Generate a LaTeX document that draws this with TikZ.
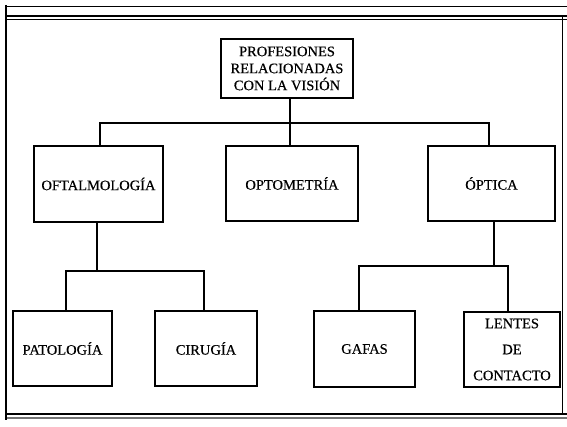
\documentclass[tikz,border=0pt]{standalone}
\usepackage{fontspec}
\setmainfont{Liberation Serif}[FakeBold=0.4]
\begin{document}
\begin{tikzpicture}[x=1pt,y=-1pt,
  box/.style={draw=black,line width=1.5pt,rectangle,inner sep=0pt,align=center,
    font=\fontsize{14.5}{17}\selectfont},
  conn/.style={draw=black,line width=2pt},
  frameline/.style={draw=black,line width=#1}]
\useasboundingbox (0,0) rectangle (567,427);
% frame
\draw[frameline=0.9pt] (5,6) -- (567,6);
\draw[frameline=2pt] (5,16) -- (567,16);
\draw[frameline=0.8pt] (7,19.5) -- (567,19.5);
\draw[frameline=2.2pt] (6,5) -- (6,420);
\draw[frameline=1pt] (562,16) -- (562,414);
\draw[frameline=2pt] (5,414) -- (567,414);
\draw[draw=black!55,line width=1.2pt] (7,418) -- (567,418);
% boxes
\node[box,minimum width=132pt,minimum height=59pt] (top) at (287,68.5) {PROFESIONES\\RELACIONADAS\\CON LA VISIÓN};
\node[box,minimum width=129pt,minimum height=76pt] (oft) at (98.5,184) {OFTALMOLOGÍA};
\node[box,minimum width=132pt,minimum height=75pt] (opt) at (292,183.5) {OPTOMETRÍA};
\node[box,minimum width=127pt,minimum height=75pt] (opc) at (491.5,183.5) {ÓPTICA};
\node[box,minimum width=99pt,minimum height=75pt] (pat) at (62.5,348.5) {PATOLOGÍA};
\node[box,minimum width=102pt,minimum height=75pt] (cir) at (206,348.5) {CIRUGÍA};
\node[box,minimum width=101pt,minimum height=76pt] (gaf) at (364.5,349) {GAFAS};
\node[box,minimum width=96pt,minimum height=75pt,font=\fontsize{14.5}{26}\selectfont] (len) at (512,349.5) {LENTES\\DE\\CONTACTO};
% junctions
\coordinate (j1) at (290,123);
\coordinate (j2) at (97,271);
\coordinate (j3) at (494,266);
% connectors
\draw[conn] ([xshift=3pt]top.south) -- (j1);
\draw[conn] ([xshift=1.5pt]oft.north) |- (j1) -| ([xshift=-2.5pt]opc.north);
\draw[conn] (j1) -- ([xshift=-2pt]opt.north);
\draw[conn] ([xshift=-1.5pt]oft.south) -- (j2);
\draw[conn] ([xshift=3.5pt]pat.north) |- (j2) -| ([xshift=-2pt]cir.north);
\draw[conn] ([xshift=2.5pt]opc.south) -- (j3);
\draw[conn] ([xshift=-5.5pt]gaf.north) |- (j3) -| ([xshift=-4pt]len.north);
\end{tikzpicture}
\end{document}
